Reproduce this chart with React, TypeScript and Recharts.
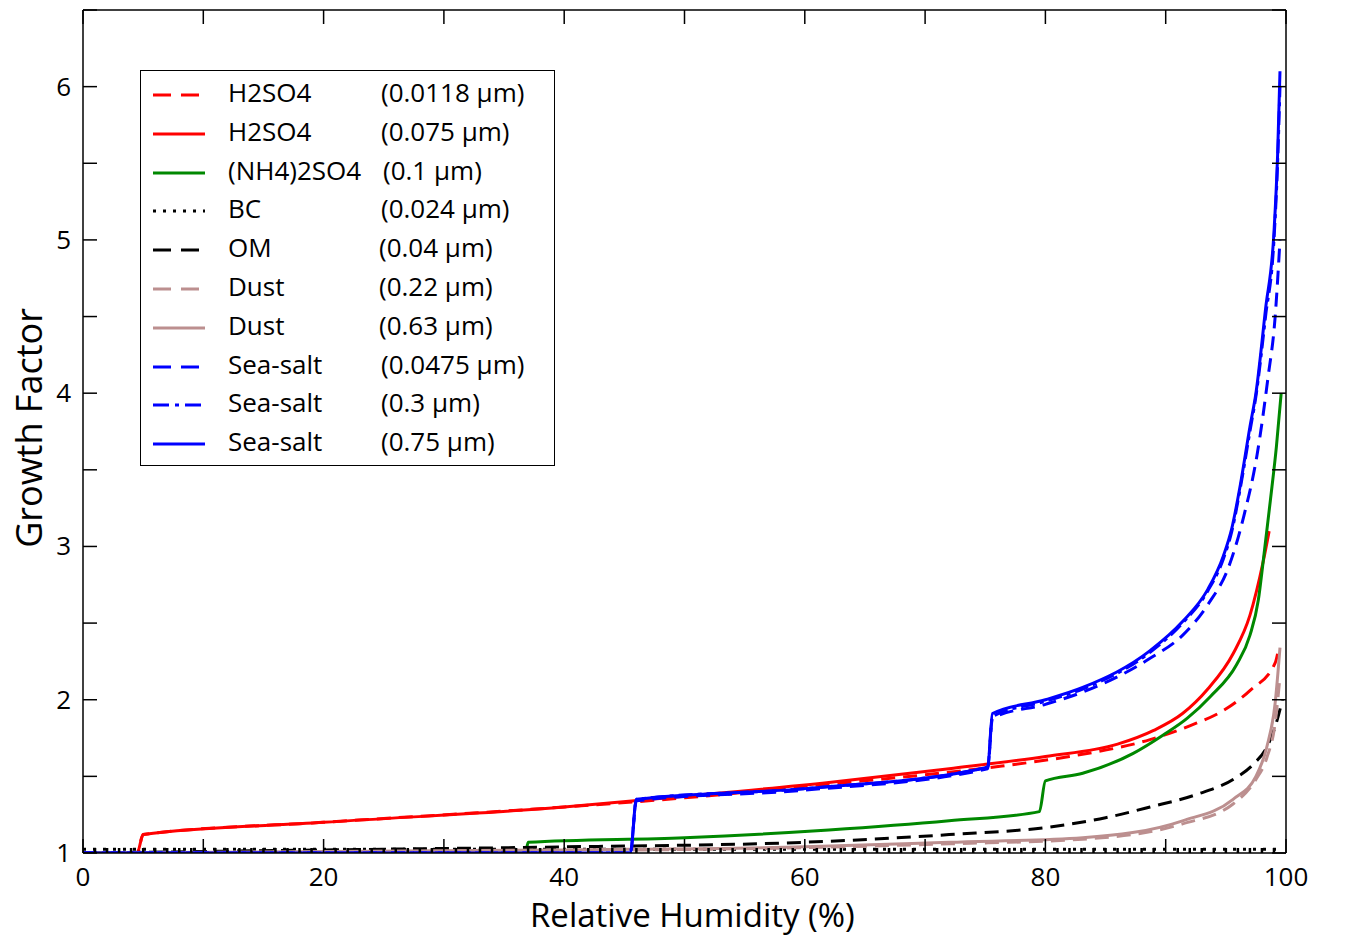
import React from 'react';
import { LineChart, Line, XAxis, YAxis } from 'recharts';

const h2so4Small = [[0,1],[4.5,1],[5,1.12],[20,1.2],[40,1.3],[50,1.36],[62,1.45],[70,1.51],[75.6,1.56],[82,1.63],[88.7,1.74],[92,1.83],[94.8,1.93],[97,2.06],[99.1,2.24],[99.3,2.3]];
const h2so4Large = [[0,1],[4.5,1],[5,1.12],[20,1.2],[40,1.3],[50,1.37],[62,1.46],[72,1.55],[80,1.63],[86,1.71],[89,1.8],[91.4,1.91],[93.5,2.07],[95.6,2.3],[97,2.55],[98.1,2.9],[98.6,3.1]];
const ammSulf = [[0,1],[36.8,1],[37,1.07],[50,1.1],[62,1.15],[72,1.21],[79.5,1.27],[80,1.47],[83.1,1.52],[87.3,1.65],[89.8,1.77],[91.8,1.88],[93.7,2.02],[95.9,2.23],[97,2.42],[97.7,2.65],[98.1,2.9],[98.7,3.3],[99.2,3.65],[99.6,4.0]];
const bc = [[0,1.025],[99.5,1.025]];
const om = [[0,1],[20,1.02],[40,1.04],[60,1.07],[72,1.12],[80.4,1.17],[85,1.23],[88.7,1.3],[92.5,1.38],[95.6,1.48],[97.3,1.58],[98.4,1.69],[99.2,1.85],[99.7,2.0]];
const dustSmall = [[0,1],[40,1.015],[60,1.035],[72,1.06],[83.1,1.09],[91.4,1.19],[95.6,1.32],[97.5,1.48],[98.4,1.62],[99.1,1.85],[99.5,2.15]];
const dustLarge = [[0,1],[40,1.02],[60,1.04],[72,1.07],[83.1,1.1],[91.4,1.21],[95.6,1.35],[97.5,1.5],[98.4,1.69],[99.1,1.98],[99.5,2.34]];
const seaSmall = [[0,1],[45.5,1],[46,1.34],[60,1.41],[75.2,1.55],[75.6,1.88],[80,1.97],[83.1,2.05],[88.7,2.27],[91.4,2.42],[93.5,2.62],[95.3,2.88],[96.5,3.2],[97.6,3.6],[98.5,4.1],[99.1,4.5],[99.5,5.0]];
const seaMid = [[0,1],[45.5,1],[46,1.35],[60,1.42],[75.2,1.56],[75.6,1.89],[80,1.99],[83.1,2.07],[88.7,2.31],[91.4,2.5],[93.5,2.71],[94.8,2.92],[95.5,3.1],[96.2,3.38],[97,3.75],[97.5,3.98],[98.3,4.5],[99,5.0],[99.3,5.5],[99.5,6.0]];
const seaLarge = [[0,1],[45.5,1],[46,1.35],[60,1.42],[75.2,1.56],[75.6,1.91],[80,2.0],[83.1,2.08],[88.7,2.32],[91.4,2.51],[93.5,2.72],[94.8,2.94],[95.5,3.12],[96.2,3.4],[97,3.78],[97.5,4.0],[98.3,4.55],[99,5.05],[99.3,5.55],[99.5,6.1]];

const xMajor = [0, 20, 40, 60, 80, 100];
const yMajor = [1, 2, 3, 4, 5, 6];
const xTicks = Array.from({ length: 101 }, (_, i) => i);
const yTicks = Array.from({ length: 12 }, (_, i) => 1 + i * 0.5);

const toPts = (a: number[][]) => a.map(([x, y]) => ({ x, y }));

const series = [
  { name: 'H2SO4', size: '(0.0118 µm)', data: h2so4Small, color: '#ff0000', dash: '14 8' },
  { name: 'H2SO4', size: '(0.075 µm)', data: h2so4Large, color: '#ff0000', dash: undefined },
  { name: '(NH4)2SO4', size: '(0.1 µm)', data: ammSulf, color: '#008800', dash: undefined },
  { name: 'BC', size: '(0.024 µm)', data: bc, color: '#000000', dash: '3 7' },
  { name: 'OM', size: '(0.04 µm)', data: om, color: '#000000', dash: '14 8' },
  { name: 'Dust', size: '(0.22 µm)', data: dustSmall, color: '#bc8f8f', dash: '14 8' },
  { name: 'Dust', size: '(0.63 µm)', data: dustLarge, color: '#bc8f8f', dash: undefined },
  { name: 'Sea-salt', size: '(0.0475 µm)', data: seaSmall, color: '#0000ff', dash: '14 8' },
  { name: 'Sea-salt', size: '(0.3 µm)', data: seaMid, color: '#0000ff', dash: '14 5 4 5' },
  { name: 'Sea-salt', size: '(0.75 µm)', data: seaLarge, color: '#0000ff', dash: undefined },
];

const font = '"Open Sans", sans-serif';

const BottomTick = (p: any) => {
  const v = p.payload.value;
  const len = v % 10 === 0 ? 14 : 5;
  return (
    <g>
      <line x1={p.x} x2={p.x} y1={p.y} y2={p.y - len} stroke="#000" strokeWidth={v % 10 === 0 ? 1.5 : 2.5} />
      {xMajor.includes(v) && (
        <text x={p.x} y={p.y + 33} textAnchor="middle" fontSize={26} fontFamily={font} fill="#000">{v}</text>
      )}
    </g>
  );
};
const TopTick = (p: any) => {
  const v = p.payload.value;
  if (v % 10 !== 0) return <g />;
  return <line x1={p.x} x2={p.x} y1={p.y} y2={p.y + 14} stroke="#000" strokeWidth={1.5} />;
};
const LeftTick = (p: any) => {
  const v = p.payload.value;
  return (
    <g>
      <line x1={p.x} x2={p.x + 14} y1={p.y} y2={p.y} stroke="#000" strokeWidth={1.5} />
      {yMajor.includes(v) && (
        <text x={p.x - 12} y={p.y + 9} textAnchor="end" fontSize={26} fontFamily={font} fill="#000">{v}</text>
      )}
    </g>
  );
};
const RightTick = (p: any) => (
  <line x1={p.x} x2={p.x - 14} y1={p.y} y2={p.y} stroke="#000" strokeWidth={1.5} />
);

export default function App() {
  return (
    <div style={{ position: 'absolute', left: 0, top: 0, width: 1348, height: 938, background: '#fff', fontFamily: font }}>
      <LineChart width={1348} height={938} margin={{ top: 9, right: 61, left: 82, bottom: 84 }}>
        <XAxis xAxisId="b" type="number" dataKey="x" domain={[0, 100]} ticks={xTicks} interval={0} height={1} tickSize={0} tickMargin={0} tickLine={false} axisLine={{ stroke: '#000', strokeWidth: 1.5 }} tick={<BottomTick />} allowDataOverflow />
        <XAxis xAxisId="t" orientation="top" type="number" dataKey="x" domain={[0, 100]} ticks={xTicks} interval={0} height={1} tickSize={0} tickMargin={0} tickLine={false} axisLine={{ stroke: '#000', strokeWidth: 1.5 }} tick={<TopTick />} />
        <YAxis yAxisId="l" type="number" domain={[1, 6.5]} ticks={yTicks} interval={0} width={1} tickSize={0} tickMargin={0} tickLine={false} axisLine={{ stroke: '#000', strokeWidth: 1.5 }} tick={<LeftTick />} allowDataOverflow />
        <YAxis yAxisId="r" orientation="right" type="number" domain={[1, 6.5]} ticks={yTicks} interval={0} width={1} tickSize={0} tickMargin={0} tickLine={false} axisLine={{ stroke: '#000', strokeWidth: 1.5 }} tick={<RightTick />} />
        {series.map((s, i) => (
          <Line key={i} xAxisId="b" yAxisId="l" data={toPts(s.data)} dataKey="y" type="monotone" stroke={s.color} strokeWidth={3} strokeDasharray={s.dash} dot={false} isAnimationActive={false} />
        ))}
        <Line xAxisId="t" yAxisId="r" data={toPts(bc)} dataKey="y" stroke="none" dot={false} legendType="none" isAnimationActive={false} />
      </LineChart>
      <div style={{ position: 'absolute', left: 530, top: 896, fontSize: 33, lineHeight: '38px', whiteSpace: 'nowrap' }}>Relative Humidity (%)</div>
      <div style={{ position: 'absolute', left: 28, top: 428, fontSize: 36, whiteSpace: 'nowrap', transform: 'translate(-50%,-50%) rotate(-90deg)' }}>Growth Factor</div>
      <div style={{ position: 'absolute', left: 140, top: 70, width: 415, height: 396, border: '1.5px solid #000', background: '#fff', boxSizing: 'border-box' }}>
        {series.map((s, i) => (
          <div key={i} style={{ position: 'absolute', left: 0, top: 2 + i * 38.8, height: 38, width: 410, fontSize: 26, lineHeight: '38px' }}>
            <svg style={{ position: 'absolute', left: 12, top: 0 }} width={54} height={38}>
              <line x1={0} x2={52} y1={22} y2={22} stroke={s.color} strokeWidth={3} strokeDasharray={s.dash === '14 5 4 5' ? '16 6 4 6' : s.dash === '3 7' ? '3 7' : s.dash ? '18 10' : undefined} />
            </svg>
            <span style={{ position: 'absolute', left: 87 }}>{s.name}</span>
            <span style={{ position: 'absolute', left: i === 2 ? 242 : i === 4 || i === 5 || i === 6 ? 238 : 240 }}>{s.size}</span>
          </div>
        ))}
      </div>
    </div>
  );
}
